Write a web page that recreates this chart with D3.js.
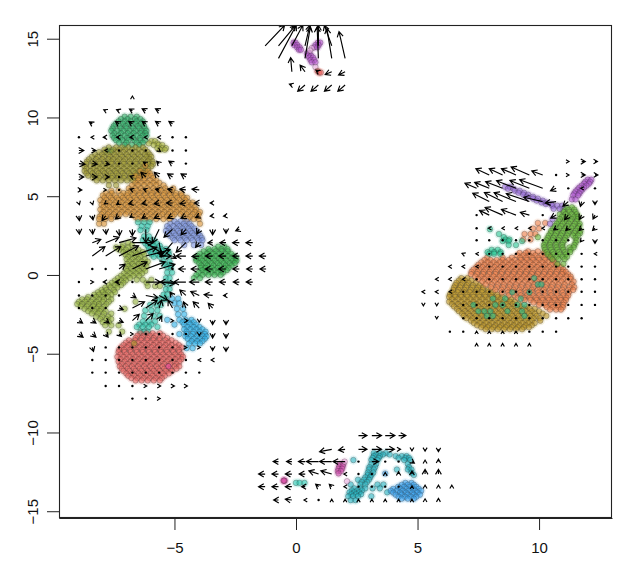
<!DOCTYPE html>
<html>
<head>
<meta charset="utf-8">
<script src="https://cdn.jsdelivr.net/npm/d3@7"></script>
<style>
  html, body { margin: 0; padding: 0; background: #fff; }
  svg { display: block; }
  text { font-family: "Liberation Sans", Arial, sans-serif; }
</style>
</head>
<body>
<svg id="chart" width="633" height="574"></svg>
<script>
// ── AXES ───────────────────────────────────────────────────────────────────
const xTicks = [-5, 0, 5, 10];
const yTicks = [-15, -10, -5, 0, 5, 10, 15];
const xDomain = [-9.75, 13.0];
const yDomain = [-15.43, 15.87];

// ── CELLS — each row is [y, [x, x, ...]] ───────────────────────────────────
const greenTop = [
  [10.05,[-7.05,-6.8,-6.55]],
  [9.9,[-7.2,-6.93,-6.62,-6.4]],
  [9.75,[-7.3,-7.05,-6.8,-6.55,-6.3]],
  [9.6,[-7.42,-7.12,-6.9,-6.6,-6.38]],
  [9.45,[-7.5,-7.25,-7,-6.75,-6.5,-6.25]],
  [9.3,[-7.55,-7.22,-6.97,-6.7,-6.45,-6.22]],
  [9.15,[-7.6,-7.35,-7.1,-6.85,-6.6,-6.35,-6.15]],
  [9,[-7.47,-7.2,-6.92,-6.68,-6.4,-6.2]],
  [8.85,[-7.55,-7.3,-7.05,-6.8,-6.55,-6.3,-6.15]],
  [8.7,[-7.48,-7.22,-6.95,-6.7,-6.42]],
  [8.55,[-7.4,-7.15,-6.9,-6.65,-6.4,-6.2]],
  [8.4,[-7.28,-6.98,-6.55,-6.3]],
  [8.25,[-7.05,-6.75,-6.45]],
  [7.9,[-7.75,-7.6]]
];
const oliveDark = [
  [8.1,[-7.7,-7.4,-7.15,-6.9,-6.6,-6.3]],
  [7.97,[-7.88,-7.52,-7.27,-7.02,-6.74,-6.47,-6.2]],
  [7.8,[-8.1,-7.85,-7.6,-7.35,-7.1,-6.85,-6.6,-6.35,-6.1]],
  [7.65,[-8.27,-7.98,-7.72,-7.47,-7.22,-6.97,-6.72,-6.48,-6.22,-6.02]],
  [7.5,[-8.4,-8.15,-7.9,-7.65,-7.4,-7.15,-6.9,-6.65,-6.4,-6.15,-5.95]],
  [7.35,[-8.52,-8.22,-7.97,-7.72,-7.52,-7.27,-7.03,-6.77,-6.52,-6.27,-6.03]],
  [7.2,[-8.6,-8.35,-8.1,-7.85,-7.6,-7.35,-7.1,-6.85,-6.6,-6.35,-6.1,-5.9]],
  [7.05,[-8.63,-8.32,-8.07,-7.82,-7.58,-7.33,-7.08,-6.83,-6.58,-6.33,-6.08,-5.88]],
  [6.9,[-8.7,-8.45,-8.2,-7.95,-7.7,-7.45,-7.2,-6.95,-6.7,-6.45,-6.2,-5.95]],
  [6.75,[-8.62,-8.33,-8.07,-7.83,-7.57,-7.33,-7.08,-6.83,-6.58,-6.33,-6.08]],
  [6.6,[-8.7,-8.45,-8.2,-7.95,-7.7,-7.45,-7.2,-6.95,-6.7,-6.45,-6.2]],
  [6.45,[-8.62,-8.37,-8.12,-7.87,-7.62,-7.38,-7.13,-6.87,-6.62,-6.37,-6.18]],
  [6.3,[-8.55,-8.3,-8.05,-7.8,-7.55,-7.3,-7.05,-6.8,-6.55,-6.3]],
  [6.15,[-8.35,-8.1,-7.83,-7.58,-7.33,-7.08,-6.83,-6.6]],
  [6.0,[-8.2,-7.95,-7.7,-7.45,-7.2,-6.95,-6.7]],
  [5.7,[-7.7,-7.4]]
];
const oliveTail = [
  [8.5,[-5.95,-5.8]],
  [8.35,[-6.05,-5.7]],
  [8.25,[-5.85,-5.65,-5.5]],
  [8.05,[-5.7,-5.5,-5.35]],
  [7.95,[-5.6,-5.4]]
];
const orange = [
  [6.95,[-6.2]],
  [6.6,[-6.4,-6.1]],
  [6.45,[-6.27,-6]],
  [6.3,[-6.6,-6.35,-6.1,-5.95]],
  [6.15,[-6.47,-6.22,-5.87]],
  [6.0,[-6.5,-6.25,-6,-5.75]],
  [5.85,[-6.62,-6.38,-6.12,-5.87,-5.62]],
  [5.7,[-6.75,-6.5,-6.25,-6,-5.75,-5.45]],
  [5.5,[-6.88,-6.62,-6.38,-6.12,-5.87,-5.62,-5.38,-5.05]],
  [5.35,[-6.8,-6.55,-6.3,-6.05,-5.8,-5.55,-5.3,-5.1,-7.3,-7.6]],
  [5.2,[-7.83,-7.58,-7.1,-6.92,-6.67,-6.42,-6.17,-5.92,-5.67,-5.42,-5.17,-4.93,-4.72]],
  [5.05,[-7.95,-7.7,-7.45,-7.2,-6.95,-6.7,-6.45,-6.2,-5.95,-5.7,-5.45,-5.2,-4.95,-4.7]],
  [4.9,[-7.88,-7.62,-7.37,-7.12,-6.87,-6.62,-6.37,-6.12,-5.87,-5.62,-5.37,-5.12,-4.88,-4.62,-4.48]],
  [4.75,[-8.05,-7.8,-7.55,-7.3,-7.05,-6.8,-6.55,-6.3,-6.05,-5.8,-5.55,-5.3,-5.05,-4.8,-4.55]],
  [4.6,[-7.92,-7.67,-7.42,-7.17,-6.92,-6.67,-6.42,-6.17,-5.92,-5.67,-5.42,-5.17,-4.92,-4.67,-4.42,-4.25]],
  [4.45,[-8,-7.75,-7.5,-7.25,-7,-6.75,-6.5,-6.25,-6,-5.75,-5.5,-5.25,-5,-4.75,-4.5,-4.3]],
  [4.3,[-7.92,-7.67,-7.42,-7.17,-6.92,-6.67,-6.42,-6.17,-5.92,-5.67,-5.42,-5.17,-4.92,-4.67,-4.42,-4.17]],
  [4.15,[-8.05,-7.8,-7.55,-7.3,-7.05,-6.8,-6.55,-6.3,-6.05,-5.8,-5.55,-5.3,-5.05,-4.8,-4.55,-4.3,-4.1]],
  [4,[-7.92,-7.67,-7.42,-7.17,-6.92,-6.67,-6.42,-6.17,-5.92,-5.67,-5.42,-5.17,-4.92,-4.67,-4.42,-4.17,-3.95]],
  [3.85,[-8,-7.75,-7.5,-7.25,-7,-6.75,-6.5,-6.25,-6,-5.75,-5.5,-5.25,-5,-4.75,-4.5,-4.25,-4]],
  [3.7,[-8.08,-7.83,-7.6,-7.35,-6.62,-6.37,-6.12,-5.87,-5.62,-5.32,-5.08,-4.62,-4.35,-4.08]],
  [3.55,[-8.1,-7.85,-7.6,-6.5,-6.25,-6,-5.75,-5.45,-5.2,-4.45,-4.2,-4]],
  [3.25,[-8.1,-7.9,-3.95]]
];
const periwinkle = [
  [3.4,[-5,-4.75,-4.5]],
  [3.25,[-5.17,-4.88,-4.62,-4.38]],
  [3.1,[-5.3,-5.05,-4.8,-4.55,-4.3]],
  [2.95,[-5.22,-4.92,-4.67,-4.42,-4.18]],
  [2.8,[-5.35,-5.1,-4.85,-4.6,-4.35,-4.1]],
  [2.65,[-5.25,-5.02,-4.77,-4.52,-4.27,-4.02]],
  [2.5,[-5.2,-4.95,-4.7,-4.45,-4.2,-3.95]],
  [2.35,[-5.07,-4.82,-4.57,-4.32,-4.07,-3.88]],
  [2.2,[-5,-4.75,-4.5,-4.25,-4,-3.85]],
  [1.9,[-4.6,-4.2,-3.9]]
];
const greenMid = [
  [1.8,[-3.2,-2.95]],
  [1.65,[-3.6,-3.35,-3.07,-2.82]],
  [1.5,[-3.8,-3.55,-3.3,-3.05,-2.8]],
  [1.35,[-3.95,-3.67,-3.42,-3.17,-2.92,-2.67]],
  [1.2,[-4.05,-3.8,-3.55,-3.3,-3.05,-2.8,-2.55]],
  [1.05,[-4.12,-3.92,-3.67,-3.42,-3.17,-2.92,-2.67,-2.47]],
  [0.9,[-4.1,-3.85,-3.6,-3.35,-3.1,-2.85,-2.6,-2.45]],
  [0.75,[-3.98,-3.73,-3.48,-3.23,-2.98,-2.73,-2.52]],
  [0.6,[-3.9,-3.65,-3.4,-3.15,-2.9,-2.65]],
  [0.45,[-3.92,-3.72,-3.47,-3.22,-2.97,-2.77]],
  [0.3,[-3.85,-3.6,-3.35,-3.1,-2.85]],
  [0.15,[-4,-3.73,-3.48,-3.23,-3]],
  [0,[-4.1,-3.85,-3.6,-3.35,-3.1]],
  [-0.2,[-4.2,-3.95]]
];
const tealLeft = [
  [3.35,[-6.5,-6.25,-6.02]],
  [3.1,[-6.35,-6.1]],
  [2.85,[-6.4,-6.15]],
  [2.45,[-6.25,-6.05]],
  [2.2,[-6.3,-6.05,-5.85]],
  [2,[-6.2,-5.97,-5.72]],
  [1.85,[-6.1,-5.85,-5.6]],
  [1.65,[-6.05,-5.8,-5.55,-5.35]],
  [1.5,[-6,-5.75,-5.5,-5.25]],
  [1.3,[-5.95,-5.7,-5.45,-5.22]],
  [1.15,[-5.85,-5.6,-5.35]],
  [0.85,[-5.45,-5.2]],
  [0.65,[-5.4,-5.2]],
  [0.5,[-5.3,-5.15]],
  [0.15,[-5.3,-5.1]],
  [-0.2,[-5.35,-5.2]],
  [-0.55,[-5.35,-5.15]],
  [-0.9,[-5.35,-5.2]],
  [-1.25,[-5.45,-5.3]],
  [-1.55,[-5.7,-5.5,-5.35]],
  [-1.9,[-6,-5.75,-5.55]],
  [-2.25,[-6.2,-5.95,-5.7]],
  [-2.6,[-6.25,-5.85,-5.6]],
  [-2.95,[-6.3,-6.05,-5.8]],
  [-3.15,[-6.45,-6.2,-5.95]],
  [-3.3,[-6.55,-6.3,-6.05,-5.7]],
  [-3.6,[-6.4,-6.1,-6.25]]
];
const oliveGreen = [
  [2.05,[-6.9]],
  [1.9,[-7.12,-6.75]],
  [1.75,[-7.4,-7.15,-6.9]],
  [1.6,[-7.27,-7,-6.72,-6.48]],
  [1.45,[-7.1,-6.85,-6.6,-6.3]],
  [1.3,[-7.02,-6.77,-6.52,-6.25]],
  [1.15,[-6.9,-6.65,-6.4]],
  [1,[-6.97,-6.73,-6.48,-6.22]],
  [0.85,[-6.85,-6.6,-6.35,-6.1]],
  [0.7,[-6.95,-6.72,-6.47,-6.22]],
  [0.55,[-6.9,-6.65,-6.4,-6.15]],
  [0.4,[-7,-6.78,-6.53,-6.28]],
  [0.25,[-6.95,-6.7,-6.45,-6.2]],
  [0.1,[-7.08,-6.83,-6.58,-6.33]],
  [-0.05,[-7.2,-6.95,-6.7,-6.45]],
  [-0.2,[-7.33,-7.08,-6.83]],
  [-0.3,[-6.55,-6.3,-5.95]],
  [-0.35,[-7.45,-7.2,-7]],
  [-0.5,[-7.58,-7.33,-7.1,-6.15]],
  [-0.65,[-7.7,-7.45,-7.2]],
  [-0.7,[-6.1,-5.8,-5.6]],
  [-0.8,[-7.85,-7.62,-7.35]],
  [-0.95,[-8,-7.8,-7.5]],
  [-1.1,[-8.15,-7.95,-7.72,-7.45]],
  [-1.25,[-8.3,-8.1,-7.85,-7.6]],
  [-1.4,[-8.55,-8.22,-7.97,-7.73]],
  [-1.55,[-8.8,-8.6,-8.35,-8.1,-7.9,-7.6]],
  [-1.7,[-8.93,-8.68,-8.43,-8.2,-7.95,-7.7,-6.6]],
  [-1.85,[-9,-8.8,-8.55,-8.3,-8.1,-7.8]],
  [-2,[-8.85,-8.6,-8.35,-8.12,-7.88]],
  [-2.15,[-8.7,-8.45,-8.2,-8,-7.05]],
  [-2.3,[-8.55,-8.3,-8.07,-7.83]],
  [-2.45,[-8.4,-8.15,-7.9,-7.6]],
  [-2.65,[-8.22,-7.97,-7.72]],
  [-2.8,[-8.05,-7.8,-7.6]],
  [-3,[-7.95,-7.7]],
  [-3.2,[-7.85,-7.6,-7.3]],
  [-3.6,[-7.7,-7.15]]
];
const lightBlue = [
  [-1.5,[-5.1,-4.85]],
  [-1.8,[-5,-4.8]],
  [-2.15,[-4.9,-4.65]],
  [-2.5,[-4.85,-4.6]],
  [-2.85,[-5.3,-4.8,-4.55,-4.3]],
  [-3,[-4.67,-4.42,-4.2]],
  [-3.15,[-5,-4.6,-4.35,-4.1]],
  [-3.3,[-4.47,-4.22,-3.97]],
  [-3.45,[-4.6,-4.35,-4.1,-3.85]],
  [-3.6,[-4.5,-4.22,-3.97,-3.72]],
  [-3.75,[-4.8,-4.5,-4.25,-4,-3.75]],
  [-3.9,[-4.55,-4.32,-4.07,-3.82,-3.68]],
  [-4.05,[-4.45,-4.2,-3.95,-3.75]],
  [-4.2,[-4.3,-4.07,-3.85]],
  [-4.35,[-4.4,-4.15,-3.95]],
  [-4.65,[-4.5,-4.25]]
];
const redLeft = [
  [-3.7,[-6.4,-6.15,-5.9,-5.6]],
  [-3.85,[-6.52,-6.27,-6.02,-5.77,-5.47]],
  [-4,[-6.6,-6.35,-6.1,-5.85,-5.6,-5.3]],
  [-4.15,[-6.87,-6.62,-6.37,-6.12,-5.87,-5.62,-5.37,-5.12]],
  [-4.3,[-7,-6.75,-6.5,-6.25,-6,-5.75,-5.5,-5.25,-4.95]],
  [-4.45,[-7.1,-6.87,-6.62,-6.37,-6.12,-5.87,-5.62,-5.37,-5.12,-4.82]],
  [-4.6,[-7.2,-6.95,-6.7,-6.45,-6.2,-5.95,-5.7,-5.45,-5.2,-4.95,-4.7]],
  [-4.75,[-7.27,-7.07,-6.82,-6.57,-6.32,-6.07,-5.82,-5.57,-5.32,-5.07,-4.82]],
  [-4.9,[-7.3,-7.05,-6.8,-6.55,-6.3,-6.05,-5.8,-5.55,-5.3,-5.05,-4.8]],
  [-5.05,[-7.22,-6.97,-6.72,-6.47,-6.22,-5.97,-5.72,-5.47,-5.22,-4.97,-4.72]],
  [-5.2,[-7.35,-7.1,-6.85,-6.6,-6.35,-6.1,-5.85,-5.6,-5.35,-5.1,-4.85,-4.65]],
  [-5.35,[-7.22,-6.97,-6.72,-6.47,-6.22,-5.97,-5.72,-5.47,-5.22,-4.97,-4.72]],
  [-5.5,[-7.3,-7.05,-6.8,-6.55,-6.3,-6.05,-5.8,-5.55,-5.3,-5.05,-4.8]],
  [-5.65,[-7.17,-6.92,-6.67,-6.42,-6.17,-5.92,-5.67,-5.42,-5.17,-4.92]],
  [-5.8,[-7.25,-7,-6.75,-6.5,-6.25,-6,-5.75,-5.5,-5.25,-5,-4.8]],
  [-5.95,[-7.17,-6.92,-6.67,-6.42,-6.17,-5.92,-5.67,-5.42,-5.17,-4.92]],
  [-6.1,[-7.1,-6.85,-6.6,-6.35,-6.1,-5.85,-5.6,-5.35,-5.1]],
  [-6.25,[-6.98,-6.73,-6.48,-6.23,-5.98,-5.73,-5.48,-5.23]],
  [-6.4,[-6.9,-6.65,-6.4,-6.15,-5.9,-5.65,-5.4]],
  [-6.55,[-6.77,-6.52,-6.27,-6.02,-5.77,-5.52]],
  [-6.7,[-6.6,-6.35,-6.1,-5.85,-5.6]]
];
const ochreRight = [
  [-0.2,[6.8,7.05]],
  [-0.35,[6.7,6.95,7.22]],
  [-0.5,[6.6,6.85,7.1,7.4]],
  [-0.65,[6.55,6.78,7.03,7.28,7.55]],
  [-0.8,[6.5,6.75,7,7.25,7.5,7.7]],
  [-0.95,[6.47,6.68,6.93,7.18,7.43,7.68,7.92]],
  [-1.1,[6.4,6.65,6.9,7.15,7.4,7.65,7.9,8.1]],
  [-1.25,[6.33,6.53,6.78,7.03,7.28,7.53,7.78,8.03,8.28]],
  [-1.4,[6.3,6.55,6.8,7.05,7.3,7.55,7.8,8.05,8.3,8.5]],
  [-1.55,[6.42,6.67,6.92,7.17,7.42,7.67,7.92,8.17,8.42,8.67,8.85]],
  [-1.7,[6.3,6.55,6.8,7.05,7.3,7.55,7.8,8.05,8.3,8.55,8.8,9]],
  [-1.85,[6.42,6.67,6.92,7.17,7.42,7.67,7.92,8.17,8.42,8.67,8.92,9.17]],
  [-2,[6.5,6.75,7,7.25,7.5,7.75,8,8.25,8.5,8.75,9,9.25,9.5]],
  [-2.15,[6.62,6.87,7.12,7.37,7.62,7.87,8.12,8.37,8.62,8.87,9.12,9.37,9.62,9.82]],
  [-2.3,[6.7,6.95,7.2,7.45,7.7,7.95,8.2,8.45,8.7,8.95,9.2,9.45,9.7,10]],
  [-2.45,[6.83,7.08,7.33,7.58,7.83,8.08,8.33,8.58,8.83,9.08,9.33,9.58,9.83,10.15]],
  [-2.6,[6.9,7.15,7.4,7.65,7.9,8.15,8.4,8.65,8.9,9.15,9.4,9.65,9.9,10.3]],
  [-2.75,[7.02,7.27,7.52,7.77,8.02,8.27,8.52,8.77,9.02,9.27,9.52,9.77,10.02]],
  [-2.9,[7.2,7.45,7.7,7.95,8.2,8.45,8.7,8.95,9.2,9.45,9.7,10.05]],
  [-3.05,[7.32,7.57,7.82,8.07,8.32,8.57,8.82,9.07,9.32,9.57,9.82]],
  [-3.2,[7.45,7.7,7.95,8.2,8.45,8.7,8.95,9.2,9.45,9.7]],
  [-3.32,[7.62,7.87,8.12,8.37,8.62,8.87,9.12,9.37,9.58]],
  [-3.45,[7.8,8.05,8.3,8.55,8.8,9.05,9.3]]
];
const coralRight = [
  [3.3,[10.25,9.95]],
  [2.95,[9.75,10]],
  [2.6,[9.4,9.65,9.85]],
  [2.25,[9.35,9.65]],
  [1.5,[9.55,9.95]],
  [1.4,[9.2,9.45,9.75,10.2]],
  [1.25,[9.1,9.35,9.6,9.85,10.1,10.4]],
  [1.1,[7.87,8.5,8.88,9.22,9.47,9.72,9.97,10.22,10.47]],
  [0.95,[7.75,8,8.25,8.5,8.75,9,9.25,9.5,9.75,10,10.25,10.55]],
  [0.8,[7.62,7.88,8.13,8.38,8.63,8.88,9.13,9.38,9.63,9.88,10.13,10.38,10.63]],
  [0.65,[7.5,7.75,8,8.25,8.5,8.75,9,9.25,9.5,9.75,10,10.25,10.5,10.75]],
  [0.5,[7.42,7.67,7.92,8.17,8.42,8.67,8.92,9.17,9.42,9.67,9.92,10.17,10.42,10.67,10.9]],
  [0.35,[7.3,7.55,7.8,8.05,8.3,8.55,8.8,9.05,9.3,9.55,9.8,10.05,10.3,10.55,10.8,11]],
  [0.2,[7.22,7.47,7.72,7.97,8.22,8.47,8.72,8.97,9.22,9.47,9.72,9.97,10.22,10.47,10.72,10.97,11.1]],
  [0.05,[7.2,7.45,7.7,7.95,8.2,8.45,8.7,8.95,9.2,9.45,9.7,9.95,10.2,10.45,10.7,10.95,11.2]],
  [-0.1,[7.37,7.62,7.87,8.12,8.37,8.62,8.87,9.12,9.37,9.62,9.87,10.12,10.37,10.62,10.87,11.12,11.3]],
  [-0.25,[7.5,7.75,8,8.25,8.5,8.75,9,9.25,9.5,9.75,10,10.25,10.5,10.75,11,11.3]],
  [-0.42,[7.67,7.92,8.17,8.42,8.67,8.92,9.17,9.42,9.67,9.92,10.17,10.42,10.67,10.92,11.17,11.42]],
  [-0.6,[7.8,8.05,8.3,8.55,8.8,9.05,9.3,9.55,9.8,10.05,10.3,10.55,10.8,11.05,11.35]],
  [-0.78,[8.02,8.27,8.52,8.77,9.02,9.27,9.52,9.77,10.02,10.27,10.52,10.77,11.02,11.27,11.45]],
  [-0.95,[8.2,8.45,8.7,8.95,9.2,9.45,9.7,9.95,10.2,10.45,10.7,10.95,11.2,11.4]],
  [-1.12,[8.47,8.72,8.97,9.22,9.47,9.72,9.97,10.22,10.47,10.72,10.97,11.22]],
  [-1.3,[8.75,9,9.25,9.5,9.75,10,10.25,10.5,10.75,11,11.2]],
  [-1.45,[9.12,9.37,9.62,9.87,10.12,10.37,10.62,10.87,11.12]],
  [-1.6,[9.4,9.65,9.9,10.15,10.4,10.65,10.9,11.1]],
  [-1.75,[9.77,10.02,10.27,10.52,10.77,11.02]],
  [-1.9,[10,10.25,10.5,10.75,11]],
  [-2.05,[10.32,10.57,10.82,10.97]],
  [-2.2,[10.45,10.7,10.9]]
];
const greenRight = [
  [4.3,[11.1,11.35]],
  [4.15,[11,11.22,11.45]],
  [4,[11,11.25,11.5]],
  [3.85,[10.85,11.1,11.35,11.55]],
  [3.7,[10.95,11.2,11.45,11.6]],
  [3.55,[10.85,11.08,11.33,11.58]],
  [3.4,[10.8,11.05,11.3,11.55]],
  [3.25,[10.72,10.97,11.22,11.47,11.67]],
  [3.1,[10.65,10.9,11.15,11.4,11.65]],
  [2.95,[10.58,10.83,11.08,11.33,11.58]],
  [2.8,[10.5,10.75,11,11.25,11.5,11.7]],
  [2.65,[10.47,10.7,10.95,11.2,11.45,11.68]],
  [2.5,[10.4,10.65,10.9,11.15,11.4,11.6]],
  [2.35,[10.35,10.58,10.83,11.08,11.5]],
  [2.2,[10.3,10.55,10.8,11.05,11.55]],
  [2.05,[10.25,10.48,10.73,10.98,11.5]],
  [1.9,[10.2,10.45,10.7,10.95,11.45]],
  [1.75,[10.22,10.47,10.72,10.97,11.25,11.42]],
  [1.6,[10.25,10.5,10.75,11,11.3]],
  [1.45,[10.32,10.57,10.82,11.07,11.28]],
  [1.3,[10.35,10.6,10.85,11.1]],
  [1.15,[10.47,10.72,10.97,11.15]],
  [1,[10.55,10.8,11.05]],
  [0.7,[10.75,11]],
  [2.4,[9.95]]
];
const tealRight = [
  [2.9,[7.98]],
  [2.6,[8.35]],
  [2.4,[8.55]],
  [2.25,[8.62,8.78]],
  [2.15,[8.5,8.75,9.3]],
  [1.9,[8.75,9.05]],
  [1.6,[8.05,8.3]],
  [1.45,[7.88,8.15,8.42]],
  [1.35,[7.95,8.15,8.4]],
  [-0.2,[9.8]],
  [-0.6,[9.95,10.1]],
  [-1.1,[8.9,9.6]],
  [-1.5,[8.1,8.6,9.25]],
  [-1.9,[7.3,8.2,8.5,9.1,9.4]],
  [-2.3,[7.5,7.75,8,8.7,9.3]],
  [-2.6,[7.85,8.1,9.4]]
];
const purpleBlue = [
  [5.6,[8.6,8.8]],
  [5.47,[8.72,8.95]],
  [5.35,[9,9.2]],
  [5.22,[9.15,9.38]],
  [5.1,[9.35,9.55]],
  [4.97,[9.5,9.75]],
  [4.85,[9.75,9.95]],
  [4.72,[9.9,10.15]],
  [4.6,[10.1,10.3]],
  [4.5,[10.28,10.5]],
  [4.4,[10.55,10.75,10.95]],
  [4.2,[10.6,10.85]],
  [3.55,[10.55]],
  [3.25,[10.45]]
];
const purpleRight = [
  [6.05,[12,12.15]],
  [5.92,[11.9,12.1]],
  [5.8,[11.85,12.05]],
  [5.67,[11.75,11.95]],
  [5.55,[11.65,11.85]],
  [5.42,[11.58,11.78]],
  [5.3,[11.5,11.7]],
  [5.17,[11.45,11.65]],
  [5.05,[11.4,11.6]],
  [4.8,[11.35,11.5]]
];
const tealBottom = [
  [-11.3,[3.2,3.45,3.7]],
  [-11.4,[3.3,3.58,3.85]],
  [-11.5,[3.2,3.45,4.1,4.35,4.55]],
  [-11.62,[3.15,3.4,4.22,4.5,4.65]],
  [-11.75,[3.1,3.35,4.45,4.7,2.36]],
  [-12,[3.1,3.3,4.6]],
  [-12.2,[3.02,3.25,4.65]],
  [-12.35,[3,3.2,4.6,4.75,4.15]],
  [-12.55,[2.95,3.18,4.75]],
  [-12.7,[2.95,3.1,4.85]],
  [-12.85,[2.85,3.05]],
  [-13,[2.8,3,2.55]],
  [-13.15,[2.7,2.92]],
  [-13.3,[2.65,2.85,3.35,3.6,2.25]],
  [-13.55,[2.4,2.65,2.85,3.15,3.45]],
  [-13.68,[2.3,2.52,2.72]],
  [-13.8,[2.2,2.4,2.6,3.75]],
  [-13.92,[2.28,2.48,2.68]],
  [-14.05,[2.15,2.35,2.55,3.1]],
  [-14.3,[2.25,2.45]]
];
const blueBottom = [
  [-12.6,[3.67]],
  [-13.2,[4.5,4.75]],
  [-13.32,[4.35,4.6,4.85]],
  [-13.45,[4.2,4.45,4.7,4.95]],
  [-13.58,[4,4.3,4.55,4.8,5.05]],
  [-13.7,[3.9,4.15,4.4,4.65,4.9,5.15]],
  [-13.82,[4,4.28,4.52,4.78,5]],
  [-13.95,[4.1,4.35,4.6,4.85,5.1]],
  [-14.08,[4.22,4.48,4.72,4.95]],
  [-14.2,[4.35,4.6,4.85]]
];
const magentaBottom = [
  [-12.0,[1.8,1.95]],
  [-12.15,[1.78,1.92]],
  [-12.3,[1.75,1.9]],
  [-12.45,[1.72,1.85]],
  [-12.6,[1.75]]
];
const tealSmall = [[-13.2,[0,0.15,0.35]]];
const magentaBig = [[-13.06,[-0.49,-0.47,-0.51]]];
const pinkFaint = [[-11.85,[2]],[-13.1,[2.1]]];
const purpleTop = [
  [14.75,[-0.1,-0.02,0.9,1]],
  [14.6,[-0.08,0.05,0.8,0.93]],
  [14.45,[0.05,0.15,0.75,0.88]],
  [14.3,[0.12,0.2]],
  [14.07,[0.45,0.55]],
  [13.92,[0.5,0.62]],
  [13.8,[0.55,0.7]],
  [13.65,[0.6,0.75]],
  [13.5,[0.65,0.8]]
];
const pinkTop = [[14.4,[0.65]],[14.25,[0.58]],[13.2,[0.8]]];
const redTop = [[12.95,[0.88]],[12.85,[0.95,1.02]]];
const strayOchre = [[-4.34,[-6.66]]];
const strayMagenta = [[-5.8,[-5.25]]];

const clusterRows = [greenTop, oliveDark, oliveTail, orange, periwinkle, greenMid, tealLeft, oliveGreen,
  lightBlue, redLeft, ochreRight, coralRight, greenRight, tealRight, purpleBlue, purpleRight, tealBottom,
  blueBottom, magentaBottom, tealSmall, magentaBig, pinkFaint, purpleTop, pinkTop, redTop, strayOchre, strayMagenta];
const clusterColors = ['#30ae68', '#9c982c', '#a8b23e', '#d89234', '#7a92de', '#34b24c', '#28c2a8', '#92ae3a',
  '#2eb0ea', '#e8625e', '#ba9220', '#ec7c46', '#60b234', '#24c492', '#9468d6', '#ae58d0', '#24b0be',
  '#38a2ee', '#d24eae', '#28c8b0', '#d84aa4', '#eca8dc', '#b658ce', '#e8b0e0', '#ec605c', '#b0a02c', '#e84aa0'];

// ── VELOCITY ARROWS — each row is [y, first column, dx, dy, dx, dy, ...] ───
const leftCols = [-8.93, -8.38, -7.83, -7.28, -6.73, -6.18, -5.63, -5.08, -4.53, -3.98, -3.43, -2.88, -2.33, -1.78, -1.23];
const leftArrowRows = [
  [11.28, 4, 0, .08],
  [10.43, 2, -.08, .06, -.1, .06, -.12, .1, -.15, .12, -.15, .12],
  [9.6, 1, -.12, .12],
  [9.6, 3, -.15, .15, -.15, .15, -.15, .15, -.15, .15, -.15, .15],
  [8.74, 0, 0, 0, -.05, 0, -.1, 0, -.1, 0, -.1, 0, -.06, 0, -.06, 0, 0, 0, 0, 0],
  [7.9, 0, .2, 0, .15, 0, -.03, 0, 0, 0, 0, 0, 0, 0, .05, -.05, 0, 0, 0, 0],
  [7.07, 0, .25, -.05, .2, -.05, .15, -.05, 0, 0, 0, 0, -.1, .1, -.1, .15, -.15, .15, 0, 0],
  [6.22, 0, .2, 0, .2, 0, .15, 0, 0, 0, -.1, .05, -.2, .3, -.2, .3, -.2, .2, -.2, .2],
  [5.4, 0, .12, 0],
  [5.4, 2, .03, 0, 0, 0, -.1, .05, -.1, .05, -.15, .05, -.2, .05, -.25, .05, -.3, .05],
  [4.57, 0, .02, -.1, .02, -.1, -.05, -.05, -.1, -.1, -.15, -.05, -.15, -.05, -.2, -.05, -.25, 0, -.25, -.05, -.2, 0, -.1, 0],
  [3.75, 0, .02, -.3, .03, -.25, -.15, -.3, -.15, -.2, -.1, -.1, -.15, -.15, -.2, -.15, -.2, -.15, -.2, -.15, -.15, -.1, -.1, -.02, -.1, -.02],
  [2.9, 0, .02, -.3, .02, -.3, .02, -.3, .02, -.4, 0, -.4, 0, -.85, -.27, -.85, -.35, -.5, -.2, -.35, -.1, -.3, 0, -.35, 0, -.25, -.15, -.1],
  [2.05, 1, .35, .2, .55, .35, .7, .3, .85, 0, .7, -.7, .1, -.9, -.5, -.9, -.4, -.6, -.15, -.3, -.2, -.02, -.25, 0, -.28, 0, -.28, 0],
  [1.2, 1, .52, .6, .62, .6, .8, .65, 1, .55, 1, .4, .5, 0, .15, -.15, -.4, 0, -.3, -.02, -.3, 0, -.3, 0, -.28, 0, -.28, 0, -.28, 0],
  [.38, 1, 0, 0, 0, 0, .25, .3, .6, .45, .8, .45, .65, .3, 0, 0, -.3, 0, -.33, 0, -.3, 0, -.3, 0, -.27, 0, -.25, 0, -.25, 0],
  [-.45, 0, 0, 0, .05, 0, -.1, 0, -.15, 0, 0, 0, .6, 0, .65, -.1, -.5, 0, -.5, 0, -.4, 0, -.3, 0, -.27, 0, -.25, 0, -.27, 0],
  [-1.3, 0, 0, 0, 0, 0, 0, 0, 0, 0, .15, -.15, .5, -.15, .35, -.3, -.1, .2, -.25, .35, -.35, .25, -.35, .05, -.1, 0],
  [-2.1, 0, 0, 0, 0, 0, 0, 0, .17, -.1, .5, .4, .47, .5, .1, .5, -.18, .5, -.1, .4, -.25, .4, -.18, .3],
  [-2.9, 0, .15, -.15, .15, -.15, .14, -.15, .17, -.1, .28, .4, .3, .45, .1, .3, .04, 0, .08, 0, 0, -.1, 0, -.25, 0, -.25],
  [-3.75, 0, .17, -.2, .15, -.2, .1, -.2, .1, -.15, .03, 0, 0, 0, 0, 0, 0, 0, 0, 0, 0, -.1, 0, -.25, 0, -.25],
  [-4.6, 1, .05, -.25, 0, 0, 0, 0, 0, 0, 0, 0, 0, 0, 0, 0, .04, 0, .04, 0, 0, -.2, 0, -.25],
  [-5.4, 1, 0, 0, 0, 0, 0, 0, 0, 0, 0, 0, 0, 0, 0, 0, 0, 0, -.05, 0, -.06, 0],
  [-6.2, 1, 0, 0, 0, 0, 0, 0, 0, 0, 0, 0, 0, 0, 0, 0, 0, 0, 0, 0],
  [-7.05, 2, 0, 0, 0, 0, 0, 0, .04, 0, .06, 0, .08, 0, .06, 0],
  [-7.85, 4, 0, 0, 0, 0, .04, 0]
];
const rightCols = [5.24, 5.79, 6.33, 6.88, 7.43, 7.95, 8.5, 9.05, 9.6, 10.15, 10.7, 11.2, 11.75, 12.3];
const rightArrowRows = [
  [7.2, 11, .03, 0, .15, 0, .1, 0],
  [6.35, 5, -.55, .4, -.55, .4, -.6, .4, -.75, .5, -.45, .25, 0, 0, .03, 0, .15, 0, .12, 0],
  [5.5, 4, -.48, .32, -.6, .38, -.7, .42, -.8, .48, -.8, .5, -.95, .55, -.23, -.15, 0, 0, -.03, 0, 0, 0],
  [4.66, 5, -.68, .53, -.75, .57, -.9, .57, -.95, .5, -.78, .27, -.45, -.1, -.22, -.3, -.05, -.3, 0, -.2],
  [3.8, 4, 0, 0, -.4, .3, -.72, .48, -.6, .36, -.37, .17, 0, 0, -.22, -.2, -.15, -.3, -.1, -.28, -.08, -.25],
  [2.97, 4, 0, 0, -.03, 0, -.03, 0, -.03, 0, -.03, 0, -.03, 0, -.1, -.1, -.1, -.15, -.1, -.15, -.1, -.15],
  [2.2, 4, 0, 0, 0, 0, 0, 0, 0, 0, 0, 0, 0, 0, 0, 0, 0, 0, -.05, -.1, 0, -.2],
  [1.34, 3, -.05, .03, -.03, 0, 0, 0, 0, 0, 0, 0, 0, 0, 0, 0, 0, 0, 0, 0, 0, 0, -.03, 0],
  [.53, 2, -.05, 0, -.05, 0, -.03, 0, 0, 0, 0, 0, 0, 0, 0, 0, 0, 0, 0, 0, 0, 0, 0, 0, 0, 0],
  [-.27, 1, -.05, 0, -.05, 0, -.03, 0, 0, 0, 0, 0, 0, 0, 0, 0, 0, 0, 0, 0, 0, 0, 0, 0, 0, 0, 0, 0],
  [-1.07, 0, -.06, 0, -.06, 0, -.03, 0, 0, 0, 0, 0, 0, 0, 0, 0, 0, 0, 0, 0, 0, 0, 0, 0, 0, 0, 0, 0, 0, 0],
  [-1.9, 0, 0, -.06, 0, -.06, 0, -.03, 0, 0, 0, 0, 0, 0, 0, 0, 0, 0, 0, 0, 0, 0, 0, 0, 0, 0, 0, 0, 0, 0],
  [-2.75, 1, 0, -.04, 0, -.03, 0, 0, 0, 0, 0, 0, 0, 0, 0, 0, 0, 0, 0, 0, 0, 0, 0, 0, 0, 0],
  [-3.6, 2, 0, 0, 0, 0, 0, .04, 0, .04, 0, .04, 0, .04, 0, 0, 0, 0, 0, 0],
  [-4.4, 4, 0, .05, 0, .05, 0, .05, 0, .05, 0, .05]
];
const bottomCols = [-1.27, -.72, -.17, .38, .93, 1.47, 2.02, 2.57, 3.12, 3.67, 4.22, 4.77, 5.31, 5.86, 6.41];
const bottomArrowRows = [
  [-10.2, 7, .35, 0, .4, 0, .4, 0, .3, 0],
  [-11.07, 5, -.5, -.15, -.27, -.05, .35, 0, .4, 0, .38, 0, .08, 0, 0, -.1, 0, -.12, 0, -.15],
  [-11.85, 1, -.22, 0, -.22, 0, -.28, 0, -.5, 0, -.5, 0, -.5, 0, 0, 0, .28, 0, 0, 0, 0, 0, .1, -.1, 0, .1, 0, .15],
  [-12.64, 0, -.27, 0, -.27, 0, -.27, 0, -.25, 0, -.4, .2, -.45, .2, -.05, 0, 0, 0, 0, 0, 0, .1, 0, .15, 0, .2, 0, .3, 0, .3],
  [-13.44, 0, -.27, 0, -.27, 0, -.27, 0, -.15, 0, -.12, .15, -.1, .15, -.05, 0, 0, 0, 0, 0, 0, 0, 0, 0, 0, .05, 0, .1, 0, .1, 0, .1],
  [-14.29, 1, -.2, 0, -.27, .05, -.05, 0, 0, 0, 0, .05, 0, .05, 0, .05, 0, .05, 0, .05, 0, .05, 0, .05, 0, .08, 0, .1]
];
const topCols = [-1.27, -.72, -.17, .37, .92, 1.47, 2.02];
const topArrowRows = [
  [14.55, 0, .8, 1.3, .7, 1.3, .45, 1.3, .2, 1.3, 0, 1.3, -.3, 1.3],
  [13.75, 1, .73, 2.1],
  [13.75, 3, .22, 2, -.05, 2, -.2, 1.9, -.25, 1.7],
  [12.9, 2, -.05, .9, -.2, .42, -.1, .1, -.27, -.17, -.27, -.2],
  [12.06, 2, -.1, .05, -.3, -.4, -.3, -.4, -.3, -.4, -.3, -.4]
];

// ── SCALES ─────────────────────────────────────────────────────────────────
const margin = { left: 59, right: 21, top: 25, bottom: 56 };
const width = 633, height = 574;
const x = d3.scaleLinear().domain(xDomain).range([margin.left, width - margin.right]);
const y = d3.scaleLinear().domain(yDomain).range([height - margin.bottom, margin.top]);

const svg = d3.select('#chart');
const defs = svg.append('defs');
defs.append('clipPath').attr('id', 'plot-clip').append('rect')
  .attr('x', margin.left).attr('y', margin.top)
  .attr('width', width - margin.left - margin.right)
  .attr('height', height - margin.top - margin.bottom);
defs.append('filter').attr('id', 'soft').append('feGaussianBlur').attr('stdDeviation', 0.35);

// ── CELLS ──────────────────────────────────────────────────────────────────
const cells = clusterRows.flatMap((rows, i) =>
  rows.flatMap(([cy, xs]) => xs.map(cx => ({ cx, cy, color: clusterColors[i] }))));

const cellLayer = svg.append('g').attr('filter', 'url(#soft)').attr('clip-path', 'url(#plot-clip)');

// pale halo round each cell
cellLayer.append('g').selectAll('circle').data(cells).join('circle')
    .attr('cx', d => x(d.cx))
    .attr('cy', d => y(d.cy))
    .attr('r', 4.6)
    .attr('fill', d => d.color)
    .attr('fill-opacity', 0.14);

cellLayer.append('g').selectAll('circle').data(cells).join('circle')
    .attr('cx', d => x(d.cx))
    .attr('cy', d => y(d.cy))
    .attr('r', 2.8)
    .attr('fill', d => d.color)
    .attr('fill-opacity', 0.55)
    .attr('stroke', '#2a2a2a')
    .attr('stroke-opacity', 0.3)
    .attr('stroke-width', 0.9);

// ── ARROWS ─────────────────────────────────────────────────────────────────
function expandArrows(rows, cols) {
  return rows.flatMap(([ay, first, ...v]) => {
    const out = [];
    for (let i = 0; i < v.length; i += 2) {
      out.push({ ax: cols[first + i / 2], ay, dx: v[i], dy: v[i + 1] });
    }
    return out;
  });
}
const arrows = [
  ...expandArrows(leftArrowRows, leftCols),
  ...expandArrows(rightArrowRows, rightCols),
  ...expandArrows(bottomArrowRows, bottomCols),
  ...expandArrows(topArrowRows, topCols)
];

function arrowPath(d) {
  const x0 = x(d.ax), y0 = y(d.ay);
  const x1 = x(d.ax + d.dx), y1 = y(d.ay + d.dy);
  const len = Math.hypot(x1 - x0, y1 - y0);
  if (len < 0.5) return `M${x0},${y0}l0.01,0`;
  const a = Math.atan2(y1 - y0, x1 - x0);
  const head = Math.min(6, 3 + len * 0.6);
  const spread = 0.52;
  const hx = s => x1 - head * Math.cos(a + s * spread);
  const hy = s => y1 - head * Math.sin(a + s * spread);
  return `M${x0},${y0}L${x1},${y1}M${hx(1)},${hy(1)}L${x1},${y1}L${hx(-1)},${hy(-1)}`;
}

svg.append('g').attr('clip-path', 'url(#plot-clip)')
  .selectAll('path').data(arrows).join('path')
    .attr('d', arrowPath)
    .attr('fill', 'none')
    .attr('stroke', '#000')
    .attr('stroke-width', d => (d.dx === 0 && d.dy === 0) ? 2.4 : 1.15)
    .attr('stroke-linecap', d => (d.dx === 0 && d.dy === 0) ? 'round' : 'butt');

// ── FRAME & AXES ───────────────────────────────────────────────────────────
svg.append('rect')
  .attr('x', margin.left + 0.5).attr('y', margin.top + 0.5)
  .attr('width', width - margin.left - margin.right - 1)
  .attr('height', height - margin.top - margin.bottom - 1)
  .attr('fill', 'none').attr('stroke', '#222').attr('stroke-width', 1.1);

const xAxis = svg.append('g')
  .attr('transform', `translate(0,${height - margin.bottom})`)
  .call(d3.axisBottom(x).tickValues(xTicks).tickSize(12).tickPadding(12).tickSizeOuter(0));
const yAxis = svg.append('g')
  .attr('transform', `translate(${margin.left},0)`)
  .call(d3.axisLeft(y).tickValues(yTicks).tickSize(12).tickPadding(9).tickSizeOuter(0));

[xAxis, yAxis].forEach(a => {
  a.selectAll('.domain').attr('stroke', '#222');
  a.selectAll('.tick line').attr('stroke', '#222');
  a.selectAll('text').attr('font-size', 15).attr('fill', '#111')
    .attr('font-family', '"Liberation Sans", Arial, sans-serif');
});
yAxis.selectAll('.tick text')
  .attr('text-anchor', 'middle')
  .attr('dy', 0)
  .attr('transform', function() {
    const t = d3.select(this);
    return `rotate(-90 ${t.attr('x')} 0)`;
  });
</script>
</body>
</html>
